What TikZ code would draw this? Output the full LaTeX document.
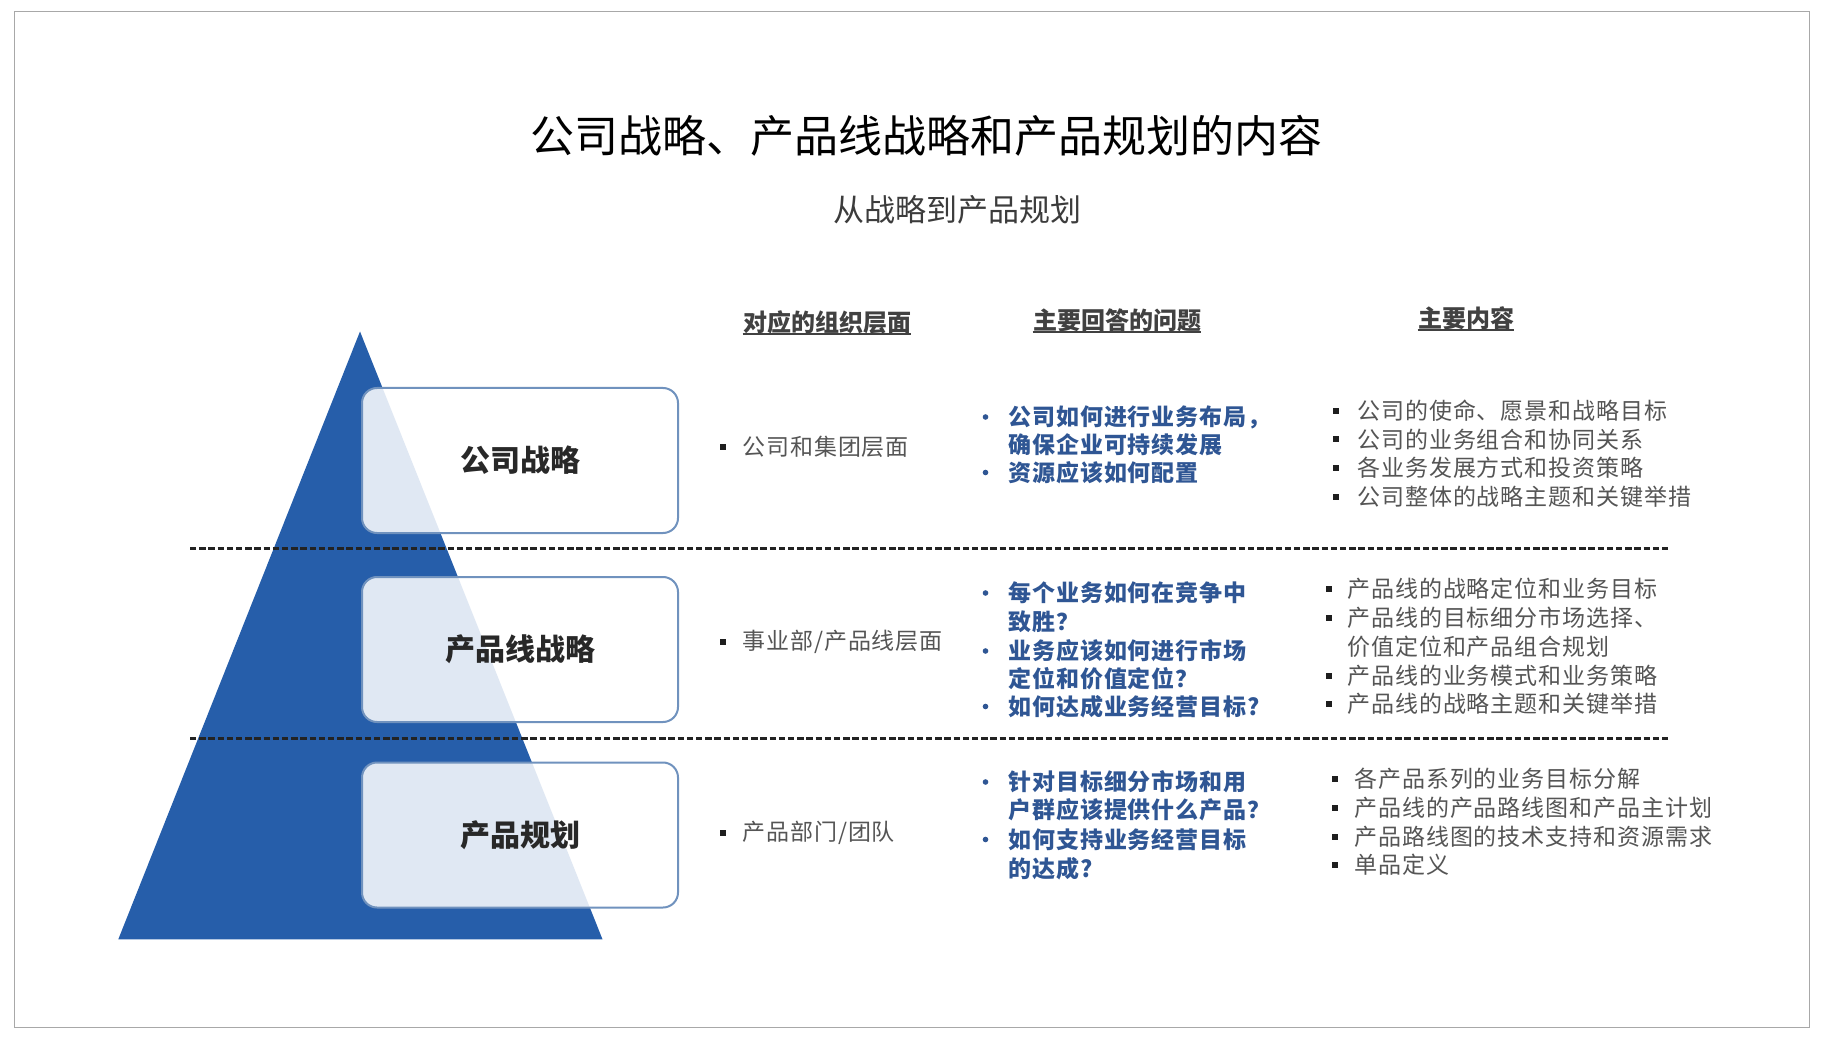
\documentclass[tikz,border=0pt]{standalone}
\usepackage{fontspec}
\setmainfont{Noto Sans CJK SC}
\definecolor{pyrblue}{RGB}{38,94,170}
\definecolor{boxedge}{RGB}{112,146,190}
\definecolor{lbltext}{RGB}{40,40,40}
\definecolor{qblue}{RGB}{47,86,148}
\definecolor{graytext}{RGB}{85,85,85}
\definecolor{hdrtext}{RGB}{65,65,65}
\definecolor{framegray}{RGB}{168,168,168}
\definecolor{subgray}{RGB}{60,60,60}
\definecolor{dashcol}{RGB}{35,35,35}
\definecolor{bulblack}{RGB}{30,30,30}
\begin{document}
\begin{tikzpicture}[x=0.5pt,y=-0.5pt,
  titletext/.style={font=\fontsize{22pt}{26pt}\selectfont, inner sep=0, text=black},
  subtext/.style={font=\fontsize{15.5pt}{18pt}\selectfont, inner sep=0, text=subgray},
  levelbox/.style={draw=boxedge, line width=1pt, rounded corners=7.5pt, fill=white, fill opacity=0.86, draw opacity=1, text opacity=1, minimum width=158pt, minimum height=72.5pt, inner sep=0, font=\fontsize{15pt}{18pt}\selectfont\bfseries, text=lbltext},
  hdr/.style={font=\fontsize{12pt}{14pt}\selectfont\bfseries, text=hdrtext, inner sep=0},
  hdrline/.style={draw=hdrtext, line width=0.75pt},
  grayitem/.style={font=\fontsize{11.5pt}{14pt}\selectfont\addfontfeature{LetterSpace=4}, text=graytext, inner sep=0, anchor=west},
  blueitem/.style={font=\fontsize{11.5pt}{14pt}\selectfont\bfseries\addfontfeature{LetterSpace=4}, text=qblue, inner sep=0, anchor=west},
  sqbul/.style={fill=bulblack, rectangle, inner sep=0, minimum size=3pt},
  rdbul/.style={fill=qblue, circle, inner sep=0, minimum size=2.8pt},
  divider/.style={draw=dashcol, line width=1.5pt, dash pattern=on 3.2pt off 1.4pt},
]
\useasboundingbox (0,0) rectangle (1824,1042);
\fill[white] (0,0) rectangle (1824,1042);
\draw[framegray, line width=0.6pt] (14.3,11.3) rectangle (1809.3,1027.7);

% title
\node[titletext] (title) at (926,136) {公司战略、产品线战略和产品规划的内容};
\node[subtext] (subtitle) at (957,209.5) {从战略到产品规划};

% pyramid
\fill[pyrblue] (360,331.5) -- (602.5,939.3) -- (118.3,939.3) -- cycle;

% dividers
\draw[divider] (190,548) -- (1669,548);
\draw[divider] (190,738.5) -- (1669,738.5);

% level boxes
\node[levelbox] (lv1) at (520,460.5) {公司战略};
\node[levelbox] (lv2) at (520,649.5) {产品线战略};
\node[levelbox] (lv3) at (520,835) {产品规划};

% headers
\node[hdr] (h1) at (827,322) {对应的组织层面};
\node[hdr] (h2) at (1117,320) {主要回答的问题};
\node[hdr] (h3) at (1466,318) {主要内容};
\draw[hdrline] (h1.south west) -- (h1.south east);
\draw[hdrline] (h2.south west) -- (h2.south east);
\draw[hdrline] (h3.south west) -- (h3.south east);

% column 1
\node[sqbul] (b1a) at (723,446.7) {};
\node[grayitem] (o1) at (742,446.7) {公司和集团层面};
\node[sqbul] (b1b) at (723,641.5) {};
\node[grayitem] (o2) at (742,641.5) {事业部/产品线层面};
\node[sqbul] (b1c) at (723,833) {};
\node[grayitem] (o3) at (742,833) {产品部门/团队};

% column 2
\node[rdbul] (b2a) at (985.5,417) {};
\node[blueitem] (q1a) at (1008,417) {公司如何进行业务布局，};
\node[blueitem] (q1b) at (1008,445) {确保企业可持续发展};
\node[rdbul] (b2b) at (985.5,472.5) {};
\node[blueitem] (q1c) at (1008,472.5) {资源应该如何配置};

\node[rdbul] (b2c) at (985.5,593) {};
\node[blueitem] (q2a) at (1008,593) {每个业务如何在竞争中};
\node[blueitem] (q2b) at (1008,621.5) {致胜？};
\node[rdbul] (b2d) at (985.5,651) {};
\node[blueitem] (q2c) at (1008,651) {业务应该如何进行市场};
\node[blueitem] (q2d) at (1008,679) {定位和价值定位？};
\node[rdbul] (b2e) at (985.5,706.5) {};
\node[blueitem] (q2e) at (1008,706.5) {如何达成业务经营目标?};

\node[rdbul] (b2f) at (985.5,782) {};
\node[blueitem] (q3a) at (1008,782) {针对目标细分市场和用};
\node[blueitem] (q3b) at (1008,810) {户群应该提供什么产品？};
\node[rdbul] (b2g) at (985.5,839.5) {};
\node[blueitem] (q3c) at (1008,839.5) {如何支持业务经营目标};
\node[blueitem] (q3d) at (1008,868.5) {的达成?};

% column 3
\node[sqbul] (b3a) at (1336,411) {};
\node[grayitem] (c1a) at (1357,411) {公司的使命、愿景和战略目标};
\node[sqbul] (b3b) at (1336,439.5) {};
\node[grayitem] (c1b) at (1357,439.5) {公司的业务组合和协同关系};
\node[sqbul] (b3c) at (1336,468) {};
\node[grayitem] (c1c) at (1357,468) {各业务发展方式和投资策略};
\node[sqbul] (b3d) at (1336,497) {};
\node[grayitem] (c1d) at (1357,497) {公司整体的战略主题和关键举措};

\node[sqbul] (b3e) at (1329,588.5) {};
\node[grayitem] (c2a) at (1347,588.5) {产品线的战略定位和业务目标};
\node[sqbul] (b3f) at (1329,617.5) {};
\node[grayitem] (c2b) at (1347,617.5) {产品线的目标细分市场选择、};
\node[grayitem] (c2c) at (1347,646.5) {价值定位和产品组合规划};
\node[sqbul] (b3g) at (1329,675.5) {};
\node[grayitem] (c2d) at (1347,675.5) {产品线的业务模式和业务策略};
\node[sqbul] (b3h) at (1329,704) {};
\node[grayitem] (c2e) at (1347,704) {产品线的战略主题和关键举措};

\node[sqbul] (b3i) at (1335,779) {};
\node[grayitem] (c3a) at (1354,779) {各产品系列的业务目标分解};
\node[sqbul] (b3j) at (1335,808) {};
\node[grayitem] (c3b) at (1354,808) {产品线的产品路线图和产品主计划};
\node[sqbul] (b3k) at (1335,836.5) {};
\node[grayitem] (c3c) at (1354,836.5) {产品路线图的技术支持和资源需求};
\node[sqbul] (b3l) at (1335,865) {};
\node[grayitem] (c3d) at (1354,865) {单品定义};
\end{tikzpicture}
\end{document}
